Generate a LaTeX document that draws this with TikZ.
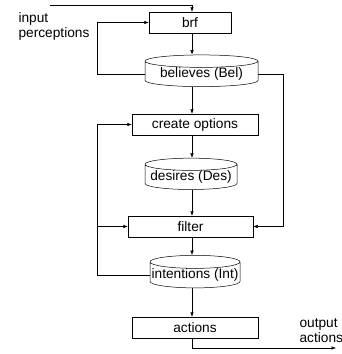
\documentclass[tikz,border=0pt]{standalone}
\usepackage{fontspec}
\setmainfont{Liberation Sans}
\usetikzlibrary{shapes.geometric,arrows.meta}

\begin{document}
\begin{tikzpicture}[x=1pt, y=-1pt, line width=0.5pt,
  every node/.style={font=\fontsize{13.7}{15}\selectfont},
  box/.style={draw,rectangle,inner sep=0pt},
  store/.style={draw,cylinder,shape border rotate=90,aspect=0.15,inner sep=0pt},
  flow/.style={-{Latex[length=4.5pt,width=3.5pt]}}]
\useasboundingbox (0,0) rectangle (342,354);
% boxes and stores
\node[box,minimum width=82,minimum height=21] (brf) at (190,22.5) {brf};
\node[store,minimum width=113,minimum height=28] (bel) at (201.5,74) {believes (Bel)};
\node[box,minimum width=126,minimum height=21] (opt) at (195,124.5) {create options};
\node[store,minimum width=92,minimum height=30] (des) at (191,177) {desires (Des)};
\node[box,minimum width=125,minimum height=21] (filt) at (190.5,226.5) {filter};
\node[store,minimum width=90,minimum height=30] (intn) at (195,275) {intentions (Int)};
\node[box,minimum width=126,minimum height=21] (act) at (195,327.5) {actions};
% texts
\node[anchor=west,align=left] (inp) at (15,26.5) {input\\perceptions};
\node[anchor=west,align=left] (outp) at (296,331) {output\\actions};
\coordinate (in) at (50,5);
\coordinate (out) at (336,348);
\coordinate (left) at (97,0);
\coordinate (axis) at (192,0);
% main flow
\draw[flow] (in) -| (brf.north -| axis);
\draw[flow] (brf.south -| axis) -- (bel.north -| axis);
\draw[flow] (bel.south -| axis) -- (opt.north -| axis);
\draw[flow] (opt.south -| axis) -- (des.north -| axis);
\draw[flow] (des.south -| axis) -- (filt.north -| axis);
\draw[flow] (filt.south -| axis) -- (intn.north -| axis);
\draw[flow] (intn.south -| axis) -- (act.north -| axis);
\draw[flow] (act.south -| axis) |- (out);
% feedback
\draw[flow] (bel.west) -| (left |- brf.west) -- (brf.west);
\draw[flow] (bel.east) -- ++(25,0) |- (filt.east);
\draw[flow] (intn.west) -| (left |- opt.west) -- (opt.west);
\draw[flow] (filt.west -| left) -- (filt.west);
\end{tikzpicture}
\end{document}
